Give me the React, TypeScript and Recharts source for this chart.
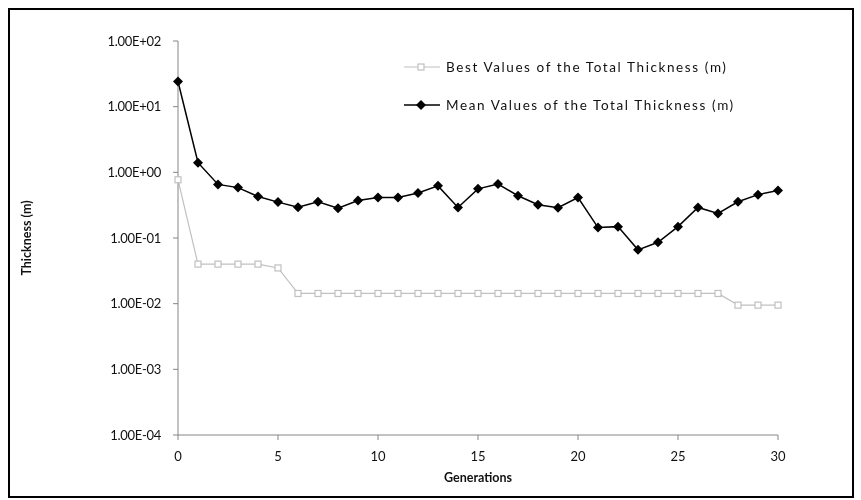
import { LineChart, Line, XAxis, YAxis, Legend } from "recharts";

const generations = [
  0, 1, 2, 3, 4, 5, 6, 7, 8, 9, 10, 11, 12, 13, 14, 15, 16, 17, 18, 19, 20,
  21, 22, 23, 24, 25, 26, 27, 28, 29, 30,
];

const bestValues = [
  0.77, 0.04, 0.04, 0.04, 0.04, 0.035, 0.0143, 0.0143, 0.0143, 0.0143, 0.0143,
  0.0143, 0.0143, 0.0143, 0.0143, 0.0143, 0.0143, 0.0143, 0.0143, 0.0143,
  0.0143, 0.0143, 0.0143, 0.0143, 0.0143, 0.0143, 0.0143, 0.0143, 0.0095,
  0.0095, 0.0095,
];

const meanValues = [
  24.2, 1.4, 0.655, 0.585, 0.428, 0.352, 0.295, 0.356, 0.284, 0.373, 0.413,
  0.413, 0.485, 0.622, 0.292, 0.56, 0.664, 0.44, 0.322, 0.29, 0.413, 0.144,
  0.149, 0.066, 0.086, 0.149, 0.292, 0.236, 0.356, 0.457, 0.53,
];

const xTicks = [0, 5, 10, 15, 20, 25, 30];
const yTicks = [0.0001, 0.001, 0.01, 0.1, 1, 10, 100];

const bestName = "Best Values of the Total Thickness (m)";
const meanName = "Mean Values of the Total Thickness (m)";

const data = generations.map((g, i) => ({
  gen: g,
  best: bestValues[i],
  mean: meanValues[i],
}));

const AXIS = "#868686";
const BEST = "#c0c0c0";
const INK = "#111";
const FONT = "Lato, 'Open Sans', sans-serif";

const formatSci = (v: number) => {
  const e = Math.round(Math.log10(v));
  const sign = e < 0 ? "-" : "+";
  return `1.00E${sign}${String(Math.abs(e)).padStart(2, "0")}`;
};

const Diamond = (props: any) => {
  const { cx, cy, index } = props;
  if (cx == null || cy == null) return <g key={index} />;
  const r = 5;
  return (
    <polygon
      key={index}
      points={`${cx},${cy - r} ${cx + r},${cy} ${cx},${cy + r} ${cx - r},${cy}`}
      fill="#000"
    />
  );
};

const Square = (props: any) => {
  const { cx, cy, index } = props;
  if (cx == null || cy == null) return <g key={index} />;
  const s = 6;
  return (
    <rect
      key={index}
      x={cx - s / 2}
      y={cy - s / 2}
      width={s}
      height={s}
      fill="#fff"
      stroke={BEST}
      strokeWidth={1.2}
    />
  );
};

const LegendBox = () => {
  const rows = [
    { name: bestName, color: BEST, kind: "square" },
    { name: meanName, color: "#000", kind: "diamond" },
  ];
  return (
    <div style={{ fontFamily: FONT, fontSize: 13.5, color: INK }}>
      {rows.map((r) => (
        <div
          key={r.name}
          style={{ display: "flex", alignItems: "center", height: 38 }}
        >
          <svg width={38} height={12} style={{ marginRight: 4 }}>
            <line
              x1={0}
              y1={6}
              x2={36}
              y2={6}
              stroke={r.color}
              strokeWidth={r.kind === "diamond" ? 1.5 : 1.2}
            />
            {r.kind === "diamond" ? (
              <polygon points="17,1 22,6 17,11 12,6" fill="#000" />
            ) : (
              <rect
                x={14}
                y={3}
                width={6}
                height={6}
                fill="#fff"
                stroke={BEST}
                strokeWidth={1.2}
              />
            )}
          </svg>
          <span style={{ letterSpacing: 1.6 }}>{r.name}</span>
        </div>
      ))}
    </div>
  );
};

export default function App() {
  return (
    <>
      <div style={{ position: "fixed", left: 0, top: 0 }}>
        <LineChart
          width={861}
          height={500}
          data={data}
          margin={{ top: 41, right: 83, bottom: 15, left: 28 }}
          style={{ fontFamily: FONT }}
        >
          <XAxis
            dataKey="gen"
            type="number"
            domain={[0, 30]}
            ticks={xTicks}
            height={50}
            stroke={AXIS}
            tickSize={5}
            tickMargin={12}
            tick={{ fill: INK, fontSize: 13 }}
            label={{
              value: "Generations",
              position: "insideBottom",
              offset: 3,
              style: { fontWeight: 700, fontSize: 12.5, fill: INK },
            }}
          />
          <YAxis
            type="number"
            scale="log"
            domain={[0.0001, 100]}
            ticks={yTicks}
            allowDataOverflow
            width={150}
            stroke={AXIS}
            tickSize={5}
            tickMargin={12}
            tickFormatter={formatSci}
            tick={{ fill: INK, fontSize: 13, letterSpacing: -0.3 }}
            label={{
              value: "Thickness (m)",
              angle: -90,
              position: "center",
              dx: -76,
              style: {
                fontWeight: 700,
                fontSize: 12.5,
                fill: INK,
                textAnchor: "middle",
              },
            }}
          />
          <Legend
            layout="vertical"
            align="center"
            verticalAlign="middle"
            content={<LegendBox />}
            wrapperStyle={{ left: 404, top: 48, width: 440, height: 76 }}
          />
          <Line
            name={bestName}
            dataKey="best"
            stroke={BEST}
            strokeWidth={1.2}
            dot={Square}
            activeDot={false}
            isAnimationActive={false}
          />
          <Line
            name={meanName}
            dataKey="mean"
            stroke="#000"
            strokeWidth={1.5}
            dot={Diamond}
            activeDot={false}
            isAnimationActive={false}
          />
        </LineChart>
      </div>
      <div
        style={{
          position: "fixed",
          left: 8,
          top: 8,
          width: 846,
          height: 490,
          boxSizing: "border-box",
          border: "2px solid #000",
          pointerEvents: "none",
        }}
      />
    </>
  );
}
